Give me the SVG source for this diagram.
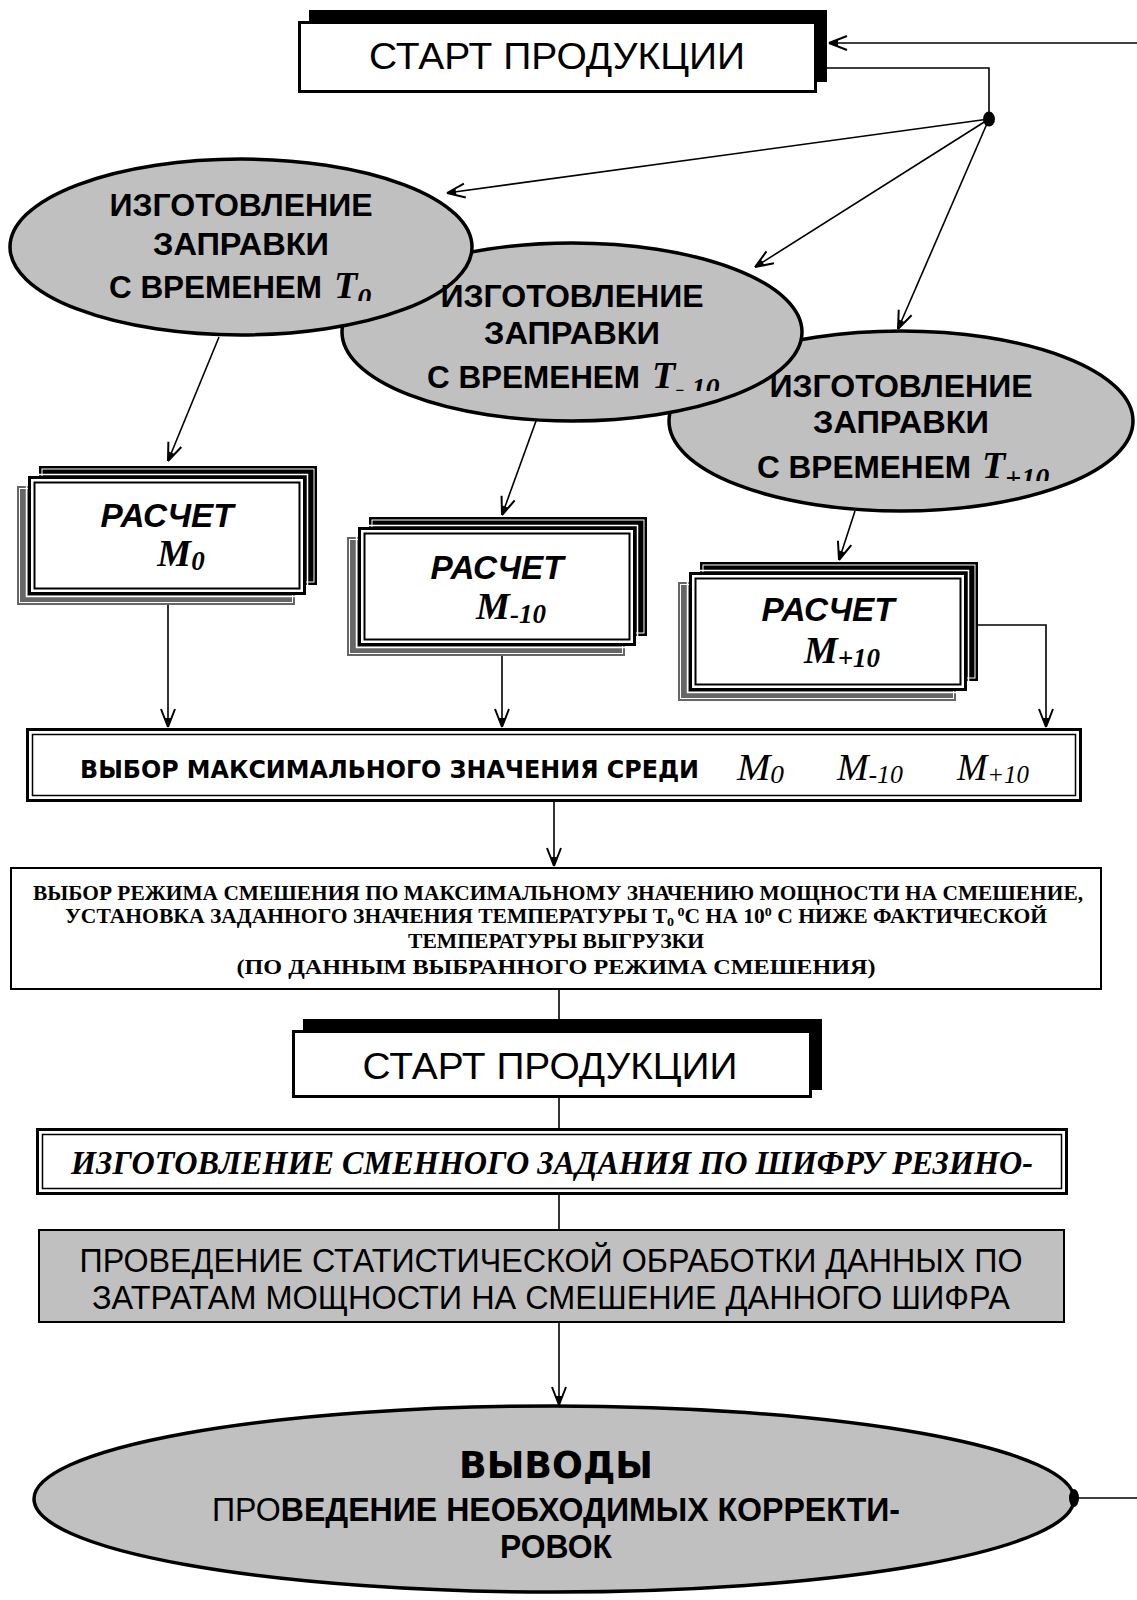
<svg xmlns="http://www.w3.org/2000/svg" width="1137" height="1600" viewBox="0 0 1137 1600">
<defs>
<marker id="arr" viewBox="-20 -10 22 20" markerWidth="22" markerHeight="20" refX="0" refY="0" orient="auto" markerUnits="userSpaceOnUse">
<path d="M0,0 L-18,-7 M0,0 L-18,7" stroke="#000" stroke-width="2" fill="none"/>
<path d="M0,0 L-9,-3.5 L-9,3.5 Z" fill="#000"/>
</marker>
<clipPath id="c1"><rect x="0" y="150" width="1137" height="151"/></clipPath>
<clipPath id="c2"><rect x="0" y="230" width="1137" height="161"/></clipPath>
<clipPath id="c3"><rect x="0" y="320" width="1137" height="161"/></clipPath>
</defs>
<style>
.bold{font-family:"Liberation Sans",Arial,sans-serif;font-weight:bold;fill:#000}
.reg{font-family:"Liberation Sans",Arial,sans-serif;fill:#000}
.heavy{font-family:"DejaVu Sans","Liberation Sans",sans-serif;font-weight:bold;fill:#000}
.ser{font-family:"Liberation Serif","Times New Roman",serif;fill:#000}
.ell{fill:#c0c0c0;stroke:#000;stroke-width:3.5}
.con{stroke:#000;stroke-width:1.6;fill:none}
.shadow{fill:#000}
.box{fill:#fff;stroke:#000;stroke-width:3}
</style>

<!-- Top START -->
<g id="start1">
<rect x="309" y="10" width="518" height="72" class="shadow"/>
<rect x="299.5" y="22.5" width="516" height="69" class="box"/>
<text class="reg" x="557" y="69" font-size="37" text-anchor="middle" textLength="376" lengthAdjust="spacingAndGlyphs">СТАРТ  ПРОДУКЦИИ</text>
</g>

<!-- Ellipses -->
<g id="ellipse3"><ellipse cx="901" cy="421" rx="232" ry="90" class="ell"/></g>
<g id="ellipse2"><ellipse cx="572" cy="332" rx="230" ry="89" class="ell"/></g>
<g id="ellipse1"><ellipse cx="241" cy="247" rx="231" ry="88" class="ell"/></g>

<g id="ellipse1-text">
<text class="bold" x="241" y="216" font-size="32" text-anchor="middle" textLength="263" lengthAdjust="spacingAndGlyphs">ИЗГОТОВЛЕНИЕ</text>
<text class="bold" x="241" y="255" font-size="32" text-anchor="middle" textLength="176" lengthAdjust="spacingAndGlyphs">ЗАПРАВКИ</text>
<text class="bold" x="109" y="298" font-size="32" textLength="213" lengthAdjust="spacingAndGlyphs">С ВРЕМЕНЕМ</text>
<g clip-path="url(#c1)"><text class="ser" x="334" y="298" font-size="38" font-style="italic" font-weight="bold">T<tspan font-size="28" dy="9">0</tspan></text></g>
</g>
<g id="ellipse2-text">
<text class="bold" x="572" y="307" font-size="32" text-anchor="middle" textLength="263" lengthAdjust="spacingAndGlyphs">ИЗГОТОВЛЕНИЕ</text>
<text class="bold" x="572" y="344" font-size="32" text-anchor="middle" textLength="176" lengthAdjust="spacingAndGlyphs">ЗАПРАВКИ</text>
<text class="bold" x="427" y="388" font-size="32" textLength="213" lengthAdjust="spacingAndGlyphs">С ВРЕМЕНЕМ</text>
<g clip-path="url(#c2)"><text class="ser" x="652" y="388" font-size="38" font-style="italic" font-weight="bold">T<tspan font-size="28" dy="9">- 10</tspan></text></g>
</g>
<g id="ellipse3-text">
<text class="bold" x="901" y="397" font-size="32" text-anchor="middle" textLength="263" lengthAdjust="spacingAndGlyphs">ИЗГОТОВЛЕНИЕ</text>
<text class="bold" x="901" y="433" font-size="32" text-anchor="middle" textLength="176" lengthAdjust="spacingAndGlyphs">ЗАПРАВКИ</text>
<text class="bold" x="757" y="478" font-size="32" textLength="214" lengthAdjust="spacingAndGlyphs">С ВРЕМЕНЕМ</text>
<g clip-path="url(#c3)"><text class="ser" x="982" y="478" font-size="38" font-style="italic" font-weight="bold">T<tspan font-size="28" dy="9">+10</tspan></text></g>
</g>

<!-- Calculation boxes -->
<g id="calc0">
<rect x="17" y="486" width="278" height="119" fill="#666"/>
<rect x="19.5" y="488.5" width="273" height="114" fill="none" stroke="#fff" stroke-width="1"/>
<rect x="39" y="466" width="278" height="119" fill="#000"/>
<rect x="42" y="469" width="272" height="113" fill="none" stroke="#fff" stroke-width="1"/>
<rect x="26.5" y="474.5" width="281" height="122" fill="none" stroke="#fff" stroke-width="1.5"/>
<rect x="29.5" y="477.5" width="275" height="116" class="box"/>
<rect x="34.5" y="482.5" width="265" height="106" fill="none" stroke="#000" stroke-width="2"/>
<text class="bold" x="167" y="527" font-size="33" font-style="italic" text-anchor="middle" textLength="133" lengthAdjust="spacingAndGlyphs">РАСЧЕТ</text>
<text class="ser" x="181" y="566" font-size="38" font-style="italic" font-weight="bold" text-anchor="middle">M<tspan font-size="27" dy="4">0</tspan></text>
</g>
<g id="calc-10">
<rect x="347" y="537" width="278" height="119" fill="#666"/>
<rect x="349.5" y="539.5" width="273" height="114" fill="none" stroke="#fff" stroke-width="1"/>
<rect x="369" y="517" width="278" height="119" fill="#000"/>
<rect x="372" y="520" width="272" height="113" fill="none" stroke="#fff" stroke-width="1"/>
<rect x="356.5" y="525.5" width="281" height="122" fill="none" stroke="#fff" stroke-width="1.5"/>
<rect x="359.5" y="528.5" width="275" height="116" class="box"/>
<rect x="364.5" y="533.5" width="265" height="106" fill="none" stroke="#000" stroke-width="2"/>
<text class="bold" x="497" y="579" font-size="33" font-style="italic" text-anchor="middle" textLength="133" lengthAdjust="spacingAndGlyphs">РАСЧЕТ</text>
<text class="ser" x="511" y="619" font-size="38" font-style="italic" font-weight="bold" text-anchor="middle">M<tspan font-size="27" dy="4">-10</tspan></text>
</g>
<g id="calc+10">
<rect x="678" y="582" width="278" height="119" fill="#666"/>
<rect x="680.5" y="584.5" width="273" height="114" fill="none" stroke="#fff" stroke-width="1"/>
<rect x="700" y="562" width="278" height="119" fill="#000"/>
<rect x="703" y="565" width="272" height="113" fill="none" stroke="#fff" stroke-width="1"/>
<rect x="687.5" y="570.5" width="281" height="122" fill="none" stroke="#fff" stroke-width="1.5"/>
<rect x="690.5" y="573.5" width="275" height="116" class="box"/>
<rect x="695.5" y="578.5" width="265" height="106" fill="none" stroke="#000" stroke-width="2"/>
<text class="bold" x="828" y="621" font-size="33" font-style="italic" text-anchor="middle" textLength="133" lengthAdjust="spacingAndGlyphs">РАСЧЕТ</text>
<text class="ser" x="842" y="663" font-size="38" font-style="italic" font-weight="bold" text-anchor="middle">M<tspan font-size="27" dy="4">+10</tspan></text>
</g>

<!-- Max selection -->
<g id="select-max">
<rect x="27.5" y="729.5" width="1053" height="71" fill="#fff" stroke="#000" stroke-width="3"/>
<rect x="32.5" y="734.5" width="1043" height="61" fill="none" stroke="#000" stroke-width="1.5"/>
<text class="heavy" x="80" y="778" font-size="25" textLength="619" lengthAdjust="spacingAndGlyphs">ВЫБОР МАКСИМАЛЬНОГО ЗНАЧЕНИЯ СРЕДИ</text>
<text class="ser" x="737" y="780" font-size="38" font-style="italic" textLength="47" lengthAdjust="spacingAndGlyphs">M<tspan font-size="26" dy="3">0</tspan></text>
<text class="ser" x="837" y="780" font-size="38" font-style="italic" textLength="66" lengthAdjust="spacingAndGlyphs">M<tspan font-size="26" dy="3">-10</tspan></text>
<text class="ser" x="957" y="780" font-size="38" font-style="italic" textLength="72" lengthAdjust="spacingAndGlyphs">M<tspan font-size="26" dy="3">+10</tspan></text>
</g>

<!-- Mode selection -->
<g id="select-mode">
<rect x="11" y="868" width="1090" height="121" fill="#fff" stroke="#000" stroke-width="2"/>
<g class="ser" font-weight="bold" font-size="20" text-anchor="middle">
<text x="558" y="900" textLength="1050" lengthAdjust="spacingAndGlyphs">ВЫБОР РЕЖИМА СМЕШЕНИЯ ПО МАКСИМАЛЬНОМУ ЗНАЧЕНИЮ МОЩНОСТИ НА СМЕШЕНИЕ,</text>
<text x="556" y="923" textLength="982" lengthAdjust="spacingAndGlyphs">УСТАНОВКА ЗАДАННОГО ЗНАЧЕНИЯ ТЕМПЕРАТУРЫ Т<tspan font-size="13" dy="3">0</tspan><tspan font-size="13" dy="-10"> 0</tspan><tspan dy="7">С НА 10</tspan><tspan font-size="13" dy="-7">0</tspan><tspan dy="7"> С НИЖЕ ФАКТИЧЕСКОЙ</tspan></text>
<text x="556" y="948" textLength="296" lengthAdjust="spacingAndGlyphs">ТЕМПЕРАТУРЫ ВЫГРУЗКИ</text>
<text x="556" y="974" textLength="639" lengthAdjust="spacingAndGlyphs">(ПО ДАННЫМ ВЫБРАННОГО РЕЖИМА СМЕШЕНИЯ)</text>
</g>
</g>

<!-- START 2 -->
<g id="start2">
<rect x="303" y="1019" width="519" height="71" class="shadow"/>
<rect x="293.5" y="1031.5" width="517" height="65" class="box"/>
<text class="reg" x="550" y="1079" font-size="37" text-anchor="middle" textLength="375" lengthAdjust="spacingAndGlyphs">СТАРТ  ПРОДУКЦИИ</text>
</g>

<!-- Shift task -->
<g id="shift-task">
<rect x="37.5" y="1129.5" width="1029" height="64" fill="#fff" stroke="#000" stroke-width="3"/>
<rect x="42.5" y="1134.5" width="1019" height="54" fill="none" stroke="#000" stroke-width="1.5"/>
<text class="ser" x="71" y="1174" font-size="33" font-style="italic" font-weight="bold" textLength="962" lengthAdjust="spacingAndGlyphs">ИЗГОТОВЛЕНИЕ СМЕННОГО ЗАДАНИЯ ПО ШИФРУ РЕЗИНО-</text>
</g>

<!-- Statistics -->
<g id="statistics">
<rect x="39" y="1230" width="1025" height="92" fill="#c0c0c0" stroke="#000" stroke-width="2"/>
<text class="reg" x="551" y="1272" font-size="34" text-anchor="middle" textLength="943" lengthAdjust="spacingAndGlyphs">ПРОВЕДЕНИЕ СТАТИСТИЧЕСКОЙ ОБРАБОТКИ ДАННЫХ ПО</text>
<text class="reg" x="551" y="1309" font-size="34" text-anchor="middle" textLength="918" lengthAdjust="spacingAndGlyphs">ЗАТРАТАМ МОЩНОСТИ НА СМЕШЕНИЕ ДАННОГО ШИФРА</text>
</g>

<!-- Conclusions -->
<g id="conclusions">
<ellipse cx="554" cy="1499" rx="520" ry="93" class="ell"/>
<text class="heavy" x="556" y="1478" font-size="38" text-anchor="middle" textLength="194" lengthAdjust="spacingAndGlyphs">ВЫВОДЫ</text>
<text class="bold" x="556" y="1521" font-size="34" text-anchor="middle" textLength="688" lengthAdjust="spacingAndGlyphs"><tspan font-weight="normal">ПРО</tspan>ВЕДЕНИЕ НЕОБХОДИМЫХ КОРРЕКТИ-</text>
<text class="bold" x="556" y="1558" font-size="34" text-anchor="middle" textLength="112" lengthAdjust="spacingAndGlyphs">РОВОК</text>
</g>

<!-- Connectors -->
<g id="connectors">
<path class="con" d="M1137,43 L829,43" marker-end="url(#arr)"/>
<path class="con" d="M827,68 L989,68 L989,119"/>
<ellipse cx="989" cy="119" rx="6" ry="7.5" fill="#000"/>
<path class="con" d="M989,119 L447,193" marker-end="url(#arr)"/>
<path class="con" d="M989,119 L755,267" marker-end="url(#arr)"/>
<path class="con" d="M989,119 L898,329" marker-end="url(#arr)"/>
<path class="con" d="M219,337 L168,461" marker-end="url(#arr)"/>
<path class="con" d="M536,421 L502,515" marker-end="url(#arr)"/>
<path class="con" d="M855,511 L839,560" marker-end="url(#arr)"/>
<path class="con" d="M168,605 L168,727" marker-end="url(#arr)"/>
<path class="con" d="M502,656 L502,727" marker-end="url(#arr)"/>
<path class="con" d="M978,625 L1046,625 L1046,727" marker-end="url(#arr)"/>
<path class="con" d="M554,801 L554,866" marker-end="url(#arr)"/>
<path class="con" d="M559,989 L559,1019"/>
<path class="con" d="M559,1097 L559,1128"/>
<path class="con" d="M559,1194 L559,1230"/>
<path class="con" d="M559,1322 L559,1405" marker-end="url(#arr)"/>
<path class="con" d="M1074,1498 L1137,1498"/>
<ellipse cx="1074" cy="1498" rx="5" ry="9" fill="#000"/>
</g>
</svg>
